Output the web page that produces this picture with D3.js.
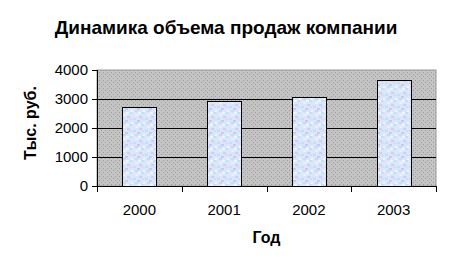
<!DOCTYPE html>
<html>
<head>
<meta charset="utf-8">
<script src="https://cdn.jsdelivr.net/npm/d3@7"></script>
<style>
  body { margin: 0; background: #fff; }
  text { font-family: Arial, "Liberation Sans", sans-serif; }
</style>
</head>
<body>
<div class="chart"></div>
<script>
// data
var years = ["2000", "2001", "2002", "2003"];
var sales = [2710, 2930, 3070, 3650];
var yTicks = [0, 1000, 2000, 3000, 4000];

var margin = {top: 70, right: 16, bottom: 82, left: 97},
    width = 452 - margin.left - margin.right,
    height = 268 - margin.top - margin.bottom;

var root = d3.select(".chart")
  .append("svg")
    .attr("width", 452)
    .attr("height", 268);

// patterns: gray dotted plot area, light textured bars
var defs = root.append("defs");
var bg = defs.append("pattern")
    .attr("id", "bgDots")
    .attr("width", 4).attr("height", 4)
    .attr("patternUnits", "userSpaceOnUse");
bg.append("rect").attr("width", 4).attr("height", 4).attr("fill", "#c4c4c4");
bg.append("rect").attr("x", 0).attr("y", 0).attr("width", 1).attr("height", 1).attr("fill", "#9a9a9a");
bg.append("rect").attr("x", 2).attr("y", 2).attr("width", 1).attr("height", 1).attr("fill", "#9a9a9a");

var bp = defs.append("pattern")
    .attr("id", "barTex")
    .attr("width", 12).attr("height", 12)
    .attr("patternUnits", "userSpaceOnUse");
bp.append("rect").attr("width", 12).attr("height", 12).attr("fill", "#dce6f8");
[[0,0,"#b8e4f8"],[4,2,"#ccc8f4"],[8,6,"#b4e8f8"],[2,8,"#eeeeff"],[6,10,"#c4d4f8"],[10,4,"#f0f6ff"],[2,4,"#bce0f4"],[8,0,"#e0d8f8"],[5,6,"#f4f4ff"]]
  .forEach(function(p) {
    bp.append("rect").attr("x", p[0]).attr("y", p[1]).attr("width", 3).attr("height", 2).attr("fill", p[2]);
  });

var svg = root.append("g")
    .attr("transform", "translate(" + margin.left + "," + margin.top + ")");

var x = d3.scaleBand()
    .domain(years)
    .range([0, width])
    .paddingInner(0.6)
    .paddingOuter(0.3);

var y = d3.scaleLinear()
    .domain([0, 4000])
    .range([height, 0]);

// plot area
svg.append("rect")
    .attr("width", width)
    .attr("height", height)
    .attr("fill", "url(#bgDots)")
    .attr("stroke", "#9a9a9a")
    .attr("stroke-width", 1);

// gridlines
svg.selectAll(".grid")
  .data(yTicks.slice(1, -1))
  .enter().append("line")
    .attr("x1", 0).attr("x2", width)
    .attr("y1", function(d) { return Math.round(y(d)) + 0.5; })
    .attr("y2", function(d) { return Math.round(y(d)) + 0.5; })
    .attr("stroke", "#000");

// bars
svg.selectAll(".bar")
  .data(sales)
  .enter().append("rect")
    .attr("x", function(d, i) { return Math.round(x(years[i])) + 0.5; })
    .attr("y", function(d) { return Math.round(y(d)) + 0.5; })
    .attr("width", Math.round(x.bandwidth()))
    .attr("height", function(d) { return height - Math.round(y(d)); })
    .attr("fill", "url(#barTex)")
    .attr("stroke", "#000");

// Y axis
var yAxis = svg.append("g")
    .call(d3.axisLeft(y).tickValues(yTicks).tickFormat(d3.format("d")).tickSize(5).tickPadding(4));
yAxis.select(".domain").attr("d", "M0.5,0V" + height);
yAxis.selectAll("text")
    .style("font-size", "15px")
    .attr("fill", "#000");

// X axis: ticks between categories
var xAxis = svg.append("g")
    .attr("transform", "translate(0," + height + ")");
xAxis.append("line")
    .attr("x1", 0).attr("x2", width)
    .attr("y1", 0.5).attr("y2", 0.5)
    .attr("stroke", "#000");
xAxis.selectAll(".xt")
  .data(d3.range(years.length + 1))
  .enter().append("line")
    .attr("x1", function(i) { return Math.round(i * x.step()) + 0.5; })
    .attr("x2", function(i) { return Math.round(i * x.step()) + 0.5; })
    .attr("y1", 0).attr("y2", 6)
    .attr("stroke", "#000");
xAxis.selectAll(".xl")
  .data(years)
  .enter().append("text")
    .attr("x", function(d) { return x(d) + x.bandwidth() / 2; })
    .attr("y", 29)
    .attr("text-anchor", "middle")
    .style("font-size", "15px")
    .text(function(d) { return d; });

// title
root.append("text")
    .attr("x", 226)
    .attr("y", 34)
    .attr("text-anchor", "middle")
    .style("font-size", "19px")
    .style("font-weight", "bold")
    .text("Динамика объема продаж компании");

// axis labels
root.append("text")
    .attr("x", margin.left + width / 2)
    .attr("y", 243)
    .attr("text-anchor", "middle")
    .style("font-size", "16px")
    .style("font-weight", "bold")
    .text("Год");

root.append("text")
    .attr("transform", "translate(36," + (margin.top + height / 2 - 5) + ") rotate(-90)")
    .attr("text-anchor", "middle")
    .style("font-size", "16px")
    .style("font-weight", "bold")
    .text("Тыс. руб.");
</script>
</body>
</html>
